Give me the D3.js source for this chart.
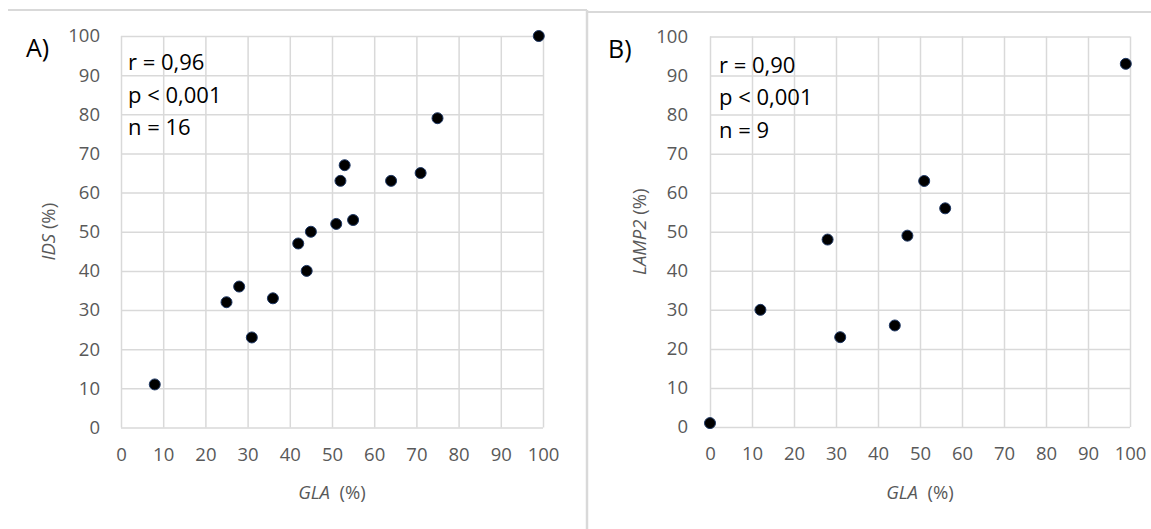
<!DOCTYPE html>
<html>
<head>
<meta charset="utf-8">
<script src="https://cdn.jsdelivr.net/npm/d3@7"></script>
<style>
  html, body { margin: 0; padding: 0; background: #fff; }
  svg { display: block; }
  .tick text { font-family: "Open Sans", sans-serif; font-size: 18.5px; fill: #595959; }
  .grid line { stroke: #d9d9d9; stroke-width: 1.5; }
  .grid path { display: none; }
</style>
</head>
<body>
<svg id="chart" width="1151" height="529"></svg>
<script>
// ---- data ----
const tickValues = [0, 10, 20, 30, 40, 50, 60, 70, 80, 90, 100];

const glaA = [8, 25, 28, 31, 36, 42, 44, 45, 51, 52, 53, 55, 64, 71, 75, 99];
const idsA = [11, 32, 36, 23, 33, 47, 40, 50, 52, 63, 67, 53, 63, 65, 79, 100];

const glaB   = [0, 12, 28, 31, 44, 47, 51, 56, 99];
const lamp2B = [1, 30, 48, 23, 26, 49, 63, 56, 93];

const statsA = ["r = 0,96", "p < 0,001", "n = 16"];
const statsB = ["r = 0,90", "p < 0,001", "n = 9"];

const panels = [
  { label: "A)", xs: glaA, ys: idsA, stats: statsA, yTitle: "IDS",
    x0: 121, x1: 543, y0: 427.5, y1: 36, labelX: 26, labelY: 57,
    statX: 128, statY: [70, 103, 135], yTitleX: 55, ypad: 21 },
  { label: "B)", xs: glaB, ys: lamp2B, stats: statsB, yTitle: "LAMP2",
    x0: 710, x1: 1130, y0: 427, y1: 36.5, labelX: 608, labelY: 58,
    statX: 719, statY: [73, 105, 138], yTitleX: 646, ypad: 22 }
];

const svg = d3.select("#chart");

// panel frames
svg.append("line").attr("x1", 8).attr("x2", 587).attr("y1", 10).attr("y2", 10)
  .attr("stroke", "#d9d9d9").attr("stroke-width", 2);
svg.append("line").attr("x1", 587).attr("x2", 1151).attr("y1", 12).attr("y2", 12)
  .attr("stroke", "#d9d9d9").attr("stroke-width", 2);
svg.append("line").attr("x1", 587).attr("x2", 587).attr("y1", 10).attr("y2", 529)
  .attr("stroke", "#d9d9d9").attr("stroke-width", 2.5);

panels.forEach(p => {
  const x = d3.scaleLinear().domain([0, 100]).range([p.x0, p.x1]);
  const y = d3.scaleLinear().domain([0, 100]).range([p.y0, p.y1]);
  const g = svg.append("g");

  // x grid + labels
  const gx = g.append("g").attr("class", "grid")
    .attr("transform", `translate(0,${p.y0})`)
    .call(d3.axisBottom(x).tickValues(tickValues).tickFormat(d3.format("d"))
      .tickSize(-(p.y0 - p.y1)).tickPadding(20));
  // y grid + labels
  const gy = g.append("g").attr("class", "grid")
    .attr("transform", `translate(${p.x0},0)`)
    .call(d3.axisLeft(y).tickValues(tickValues).tickFormat(d3.format("d"))
      .tickSize(-(p.x1 - p.x0)).tickPadding(p.ypad));

  // axis lines (darker)
  gx.selectAll(".tick").filter(d => d === 0).select("line").attr("stroke", "#bfbfbf");
  gy.selectAll(".tick").filter(d => d === 0).select("line").attr("stroke", "#bfbfbf");

  // panel label
  g.append("text").attr("x", p.labelX).attr("y", p.labelY)
    .attr("font-family", "Open Sans, sans-serif").attr("font-size", 25)
    .attr("fill", "#000").text(p.label);

  // stats
  g.selectAll(".stat").data(p.stats).join("text")
    .attr("x", p.statX).attr("y", (d, i) => p.statY[i])
    .attr("font-family", "Open Sans, sans-serif").attr("font-size", 22)
    .attr("fill", "#000").text(d => d);

  // x title
  const xt = g.append("text").attr("x", (p.x0 + p.x1) / 2).attr("y", 499)
    .attr("text-anchor", "middle")
    .attr("font-family", "Open Sans, sans-serif").attr("font-size", 18.5).attr("fill", "#595959");
  xt.append("tspan").attr("font-style", "italic").text("GLA");
  xt.append("tspan").text("\u00a0 (%)");

  // y title
  const cy = (p.y0 + p.y1) / 2;
  const yt = g.append("text")
    .attr("transform", `translate(${p.yTitleX},${cy}) rotate(-90)`)
    .attr("text-anchor", "middle")
    .attr("font-family", "Open Sans, sans-serif").attr("font-size", 18.5).attr("fill", "#595959");
  yt.append("tspan").attr("font-style", "italic").text(p.yTitle);
  yt.append("tspan").text(" (%)");

  // points
  g.selectAll(".dot").data(p.xs.map((v, i) => [v, p.ys[i]])).join("circle")
    .attr("cx", d => x(d[0])).attr("cy", d => y(d[1])).attr("r", 5.5)
    .attr("fill", "#000").attr("stroke", "#1f3864").attr("stroke-width", 1);
});
</script>
</body>
</html>
